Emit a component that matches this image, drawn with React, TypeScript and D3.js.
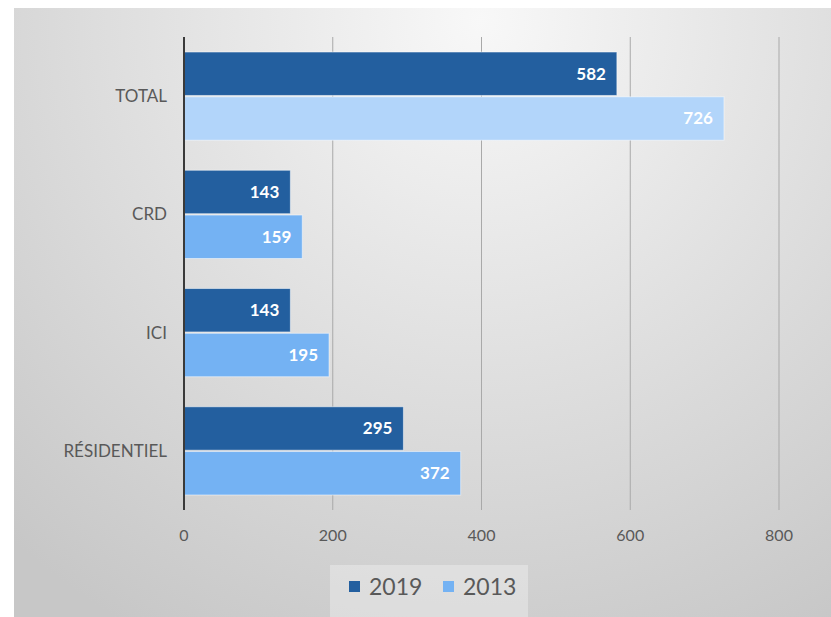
import { useEffect, useRef } from "react";
import * as d3 from "d3";

const categories = ["TOTAL", "CRD", "ICI", "RÉSIDENTIEL"];
const years = ["2019", "2013"];
const values2019 = [582, 143, 143, 295];
const values2013 = [726, 159, 195, 372];
const xTicks = [0, 200, 400, 600, 800];

const W = 831;
const H = 617;
const FONT = "Lato, 'Open Sans', sans-serif";

export default function App() {
  const ref = useRef<SVGSVGElement | null>(null);

  useEffect(() => {
    if (!ref.current) return;
    const svg = d3.select(ref.current);
    svg.selectAll("*").remove();

    const defs = svg.append("defs");
    const grad = defs
      .append("radialGradient")
      .attr("id", "bg")
      .attr("gradientUnits", "userSpaceOnUse")
      .attr("cx", 480)
      .attr("cy", 20)
      .attr("r", 700);
    grad.append("stop").attr("offset", 0).attr("stop-color", "#f8f8f8");
    grad.append("stop").attr("offset", 1).attr("stop-color", "#c7c7c7");

    svg.append("rect").attr("width", W).attr("height", H).attr("fill", "#fff");
    svg
      .append("rect")
      .attr("x", 14)
      .attr("y", 8)
      .attr("width", W - 14)
      .attr("height", H - 8)
      .attr("fill", "url(#bg)");

    const x = d3.scaleLinear().domain([0, 800]).range([184, 779]);
    const y = d3
      .scaleBand<string>()
      .domain(categories)
      .range([37, 510])
      .paddingInner(0.254)
      .paddingOuter(0.127);
    const y1 = d3
      .scaleBand<string>()
      .domain(years)
      .range([0, y.bandwidth()])
      .paddingInner(0.03);

    // gridlines
    svg
      .append("g")
      .selectAll("line")
      .data(xTicks.slice(1))
      .join("line")
      .attr("x1", (d) => x(d))
      .attr("x2", (d) => x(d))
      .attr("y1", 37)
      .attr("y2", 510)
      .attr("stroke", "#a9a9a9")
      .attr("stroke-width", 1);

    // tick labels
    svg
      .append("g")
      .attr("font-family", FONT)
      .attr("font-size", 16)
      .attr("fill", "#595959")
      .attr("text-anchor", "middle")
      .selectAll("text")
      .data(xTicks)
      .join("text")
      .attr("x", (d) => x(d))
      .attr("y", 541)
      .text((d) => d);

    // category labels
    svg
      .append("g")
      .attr("font-family", FONT)
      .attr("font-size", 17)
      .attr("fill", "#595959")
      .attr("text-anchor", "end")
      .selectAll("text")
      .data(categories)
      .join("text")
      .attr("x", 167)
      .attr("y", (d) => y(d)! + y.bandwidth() / 2)
      .attr("dy", "0.35em")
      .text((d) => d);

    const rows = categories.flatMap((c, i) => [
      { cat: c, year: "2019", value: values2019[i], color: "#235f9f" },
      {
        cat: c,
        year: "2013",
        value: values2013[i],
        color: c === "TOTAL" ? "#b2d5fa" : "#74b2f3",
      },
    ]);

    svg
      .append("g")
      .selectAll("rect")
      .data(rows)
      .join("rect")
      .attr("x", x(0))
      .attr("y", (d) => y(d.cat)! + y1(d.year)!)
      .attr("width", (d) => x(d.value) - x(0))
      .attr("height", y1.bandwidth())
      .attr("fill", (d) => d.color)
      .attr("stroke", "rgba(255,255,255,0.5)")
      .attr("stroke-width", 1);

    svg
      .append("g")
      .attr("font-family", FONT)
      .attr("font-size", 17)
      .attr("font-weight", "bold")
      .attr("fill", "#fff")
      .attr("text-anchor", "end")
      .selectAll("text")
      .data(rows)
      .join("text")
      .attr("x", (d) => x(d.value) - 11)
      .attr("y", (d) => y(d.cat)! + y1(d.year)! + y1.bandwidth() / 2)
      .attr("dy", "0.35em")
      .text((d) => d.value);

    // axis line
    svg
      .append("line")
      .attr("x1", x(0))
      .attr("x2", x(0))
      .attr("y1", 37)
      .attr("y2", 510)
      .attr("stroke", "#3a3a3a")
      .attr("stroke-width", 2);

    // legend
    const lg = svg.append("g");
    lg.append("rect")
      .attr("x", 330)
      .attr("y", 565)
      .attr("width", 198)
      .attr("height", 52)
      .attr("fill", "rgba(255,255,255,0.3)");
    const legendItems = [
      { label: years[0], color: "#235f9f", x: 349 },
      { label: years[1], color: "#74b2f3", x: 443 },
    ];
    const items = lg
      .selectAll("g.item")
      .data(legendItems)
      .join("g")
      .attr("class", "item");
    items
      .append("rect")
      .attr("x", (d) => d.x)
      .attr("y", 581)
      .attr("width", 11)
      .attr("height", 11)
      .attr("fill", (d) => d.color);
    items
      .append("text")
      .attr("x", (d) => d.x + 20)
      .attr("y", 587)
      .attr("dy", "0.35em")
      .attr("font-family", FONT)
      .attr("font-size", 23)
      .attr("fill", "#595959")
      .text((d) => d.label);
  }, []);

  return (
    <svg
      ref={ref}
      width={W}
      height={H}
      style={{ position: "absolute", left: 0, top: 0 }}
    />
  );
}
